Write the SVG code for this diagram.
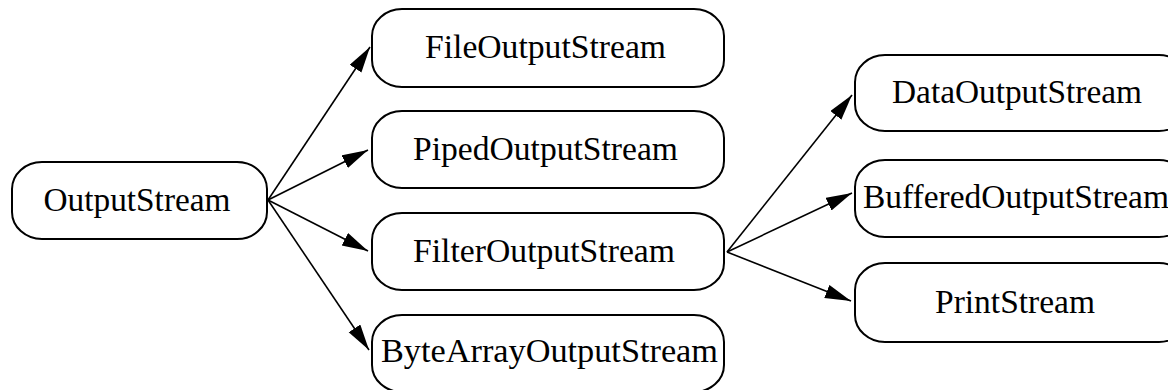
<svg xmlns="http://www.w3.org/2000/svg" width="1168" height="390" viewBox="0 0 1168 390">
<style>
.node rect{fill:#fff;stroke:#000;stroke-width:2}
.node text{font-family:"Liberation Serif","Times New Roman",serif;font-size:33px;fill:#000;text-anchor:middle}
.edges path{fill:none;stroke:#000;stroke-width:1.6}
</style>
<defs>
<marker id="ah" markerUnits="userSpaceOnUse" markerWidth="28" markerHeight="16" refX="26" refY="7" orient="auto">
<path d="M0,0 L26,7 L0,14 Z" fill="#000"/>
</marker>
</defs>
<rect width="1168" height="390" fill="#fff"/>
<g class="edges" id="edges">
<path d="M268,200 L370,47" marker-end="url(#ah)"/>
<path d="M268,200 L368,150" marker-end="url(#ah)"/>
<path d="M268,200 L368,251" marker-end="url(#ah)"/>
<path d="M268,200 L369,350" marker-end="url(#ah)"/>
<path d="M727,252 L852,95" marker-end="url(#ah)"/>
<path d="M727,252 L852,193" marker-end="url(#ah)"/>
<path d="M727,252 L851,301" marker-end="url(#ah)"/>
</g>
<g class="node" id="OutputStream">
<rect x="12" y="162" width="255" height="77" rx="30" ry="27"/>
<text x="137" y="211" textLength="187" lengthAdjust="spacingAndGlyphs">OutputStream</text>
</g>
<g class="node" id="FileOutputStream">
<rect x="372" y="9" width="352" height="78" rx="30" ry="27"/>
<text x="545.5" y="58" textLength="241" lengthAdjust="spacingAndGlyphs">FileOutputStream</text>
</g>
<g class="node" id="PipedOutputStream">
<rect x="372" y="111" width="352" height="77" rx="30" ry="27"/>
<text x="545.5" y="160" textLength="265" lengthAdjust="spacingAndGlyphs">PipedOutputStream</text>
</g>
<g class="node" id="FilterOutputStream">
<rect x="372" y="213" width="352" height="77" rx="30" ry="27"/>
<text x="544" y="262" textLength="262" lengthAdjust="spacingAndGlyphs">FilterOutputStream</text>
</g>
<g class="node" id="ByteArrayOutputStream">
<rect x="372" y="315" width="352" height="77" rx="30" ry="27"/>
<text x="549.5" y="362" textLength="337" lengthAdjust="spacingAndGlyphs">ByteArrayOutputStream</text>
</g>
<g class="node" id="DataOutputStream">
<rect x="855" y="55" width="334" height="76" rx="30" ry="27"/>
<text x="1017" y="103" textLength="250" lengthAdjust="spacingAndGlyphs">DataOutputStream</text>
</g>
<g class="node" id="BufferedOutputStream">
<rect x="855" y="160" width="334" height="77" rx="30" ry="27"/>
<text x="1016" y="208" textLength="306" lengthAdjust="spacingAndGlyphs">BufferedOutputStream</text>
</g>
<g class="node" id="PrintStream">
<rect x="855" y="263" width="334" height="79" rx="30" ry="27"/>
<text x="1015" y="313" textLength="160" lengthAdjust="spacingAndGlyphs">PrintStream</text>
</g>
</svg>
